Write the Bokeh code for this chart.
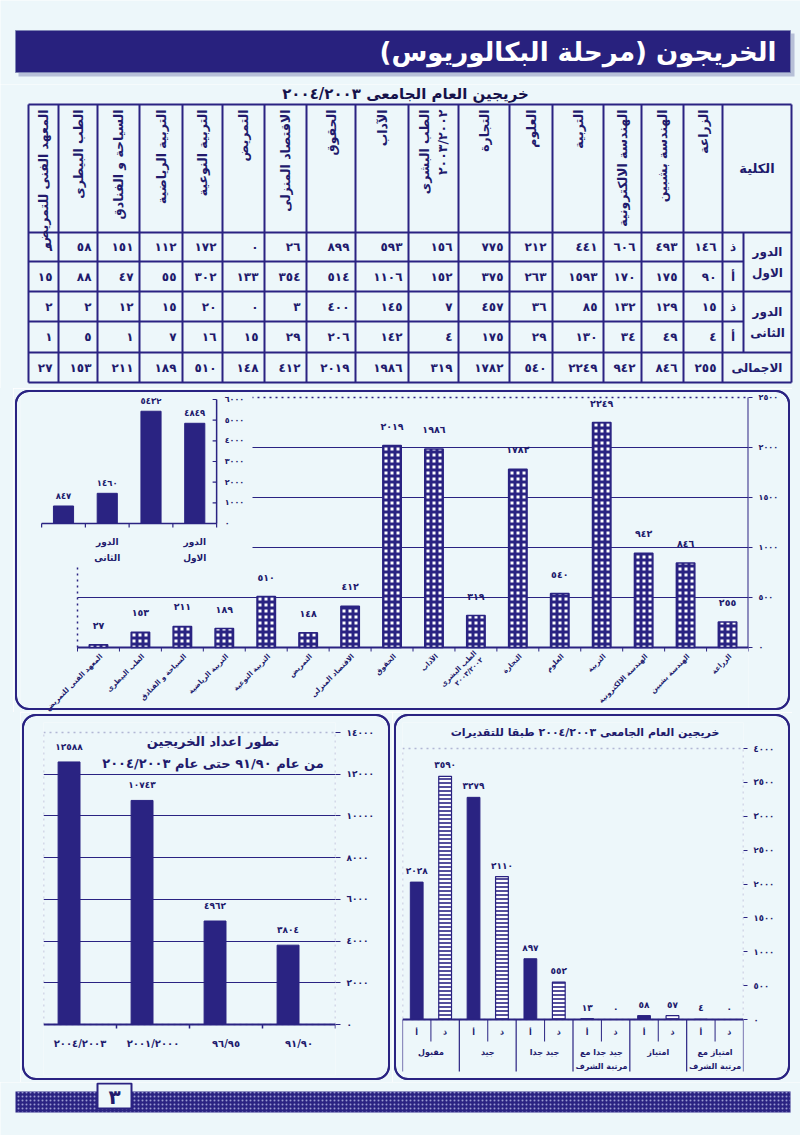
import math
from bokeh.plotting import figure
from bokeh.layouts import column, row
from bokeh.models import (Range1d, FactorRange, FixedTicker, BoxAnnotation, Span, ColumnDataSource,
                          Spacer, InlineStyleSheet)
from bokeh.core.properties import value
from bokeh.transform import dodge
from bokeh.embed import file_html
from bokeh.resources import INLINE

# ---------------- data ----------------
page_title = "الخريجون (مرحلة البكالوريوس)"
table_title = "خريجين العام الجامعى ٢٠٠٤/٢٠٠٣"
faculties = ["المعهد الفنى للتمريض", "الطب البيطرى", "السياحة و الفنادق", "التربية الرياضية",
             "التربية النوعية", "التمريض", "الاقتصاد المنزلى", "الحقوق", "الآداب",
             "الطب البشرى\n٢٠٠٣/٢٠٠٢", "التجارة", "العلوم", "التربية",
             "الهندسة الالكترونية", "الهندسة بشبين", "الزراعة"]
round1_male = [9, 58, 151, 112, 172, 0, 26, 899, 593, 156, 775, 212, 441, 606, 493, 146]
round1_female = [15, 88, 47, 55, 302, 133, 354, 514, 1106, 152, 375, 263, 1593, 170, 175, 90]
round2_male = [2, 2, 12, 15, 20, 0, 3, 400, 145, 7, 457, 36, 85, 132, 129, 15]
round2_female = [1, 5, 1, 7, 16, 15, 29, 206, 142, 4, 175, 29, 130, 34, 49, 4]
faculty_total = [27, 153, 211, 189, 510, 148, 412, 2019, 1986, 319, 1782, 540, 2249, 942, 846, 255]
table_corner = "الكلية"
round_names = ["الدور\nالاول", "الدور\nالثانى"]
gender_names = ["ذ", "أ"]
total_name = "الاجمالى"

inset_round = ["الدور\nالثانى", "الدور\nالثانى", "الدور\nالاول", "الدور\nالاول"]
inset_gender = ["أ", "ذ", "أ", "ذ"]
inset_values = [847, 1460, 5432, 4849]
inset_ticks = [0, 1000, 2000, 3000, 4000, 5000, 6000]
main_ticks = [0, 500, 1000, 1500, 2000, 2500]

trend_title = "تطور اعداد الخريجين\nمن عام ٩١/٩٠ حتى عام ٢٠٠٤/٢٠٠٣"
trend_years = ["٢٠٠٤/٢٠٠٣", "٢٠٠١/٢٠٠٠", "٩٦/٩٥", "٩١/٩٠"]
trend_values = [12588, 10743, 4962, 3804]
trend_ticks = [0, 2000, 4000, 6000, 8000, 10000, 12000, 14000]

grades_title = "خريجين العام الجامعى ٢٠٠٤/٢٠٠٣ طبقا للتقديرات"
grades = ["مقبول", "جيد", "جيد جدا", "جيد جدا مع\nمرتبة الشرف", "امتياز", "امتياز مع\nمرتبة الشرف"]
grade_sub = ["أ", "ذ"]
grades_female = [2028, 3279, 897, 13, 58, 4]
grades_male = [3590, 2110, 552, 0, 57, 0]
grades_ticks = [0, 500, 1000, 1500, 2000, 2500, 3000, 3500, 4000]
page_number = 3

# ---------------- style ----------------
PAGE = "#edf7fa"
NAVY = "#2a2382"
INK = "#211a6c"
FONT = value("DejaVu Sans")
RLM = "\u200f"
DOWN = 1
AR = str.maketrans("0123456789", "٠١٢٣٤٥٦٧٨٩")
BOX_CSS = """
:host { position: relative; }
:host::after, .bk-Canvas::after {
  content: ""; position: absolute; left: 2px; top: 2px; right: 2px; bottom: 2px;
  border: 2.5px solid %s; border-radius: 14px; pointer-events: none; z-index: 100;
  box-sizing: border-box;
}
""" % NAVY


def boxed():
    return [InlineStyleSheet(css=BOX_CSS)]


def spacer(w, h):
    return Spacer(width=w, height=h, styles={"background-color": PAGE})


def ar(n):
    return str(n).translate(AR)


def base_style(p):
    p.background_fill_color = PAGE
    p.border_fill_color = PAGE
    p.outline_line_color = None
    return p


def page_fig(w, h, x0, y0):
    p = figure(width=w, height=h, x_range=Range1d(x0, x0 + w), y_range=Range1d(y0 + h, y0),
               x_axis_location=None, y_axis_location=None, min_border=0,
               toolbar_location=None, output_backend="svg")
    p.grid.visible = False
    return base_style(p)


def txt(p, **kw):
    d = dict(text_font=FONT, text_font_style="bold", text_color=INK,
             text_align="center", text_baseline="middle")
    d.update(kw)
    return p.text(**d)


def style_right_axis(ax, ticks, size):
    ax.ticker = FixedTicker(ticks=ticks)
    ax.major_label_overrides = {t: ar(t) for t in ticks}
    ax.axis_line_color = None
    ax.major_tick_line_color = NAVY
    ax.major_tick_in = 0
    ax.major_tick_out = 4
    ax.minor_tick_line_color = None
    ax.major_label_text_font = "DejaVu Sans"
    ax.major_label_text_font_style = "bold"
    ax.major_label_text_font_size = size
    ax.major_label_text_color = INK
    ax.major_label_standoff = 6


# ---------------- header ----------------
hdr = page_fig(800, 84, 0, 0)
hdr.quad(left=[18], right=[794], top=[33], bottom=[76], fill_color="#b7c0d8", line_color=None)
hdr.quad(left=[15], right=[790], top=[30], bottom=[72], fill_color="#28217e",
         line_color="#7f86b5", line_width=1)
txt(hdr, x=[776], y=[51], text=[RLM + page_title + RLM], text_align="right",
    text_color="white", text_font_size="26px")

# ---------------- table ----------------
tb = page_fig(800, 304, 0, 84)
txt(tb, x=[405], y=[93], text=[table_title], text_font_size="15px", text_color="#16124a")

col_edges = [28, 58, 97, 139, 182, 222, 264, 306, 355, 408, 458, 509, 552, 603, 641, 683, 722]
lab_mid, lab_right = 743, 791
row_edges = [104, 232, 261, 291, 321, 352, 382]

x0s, y0s, x1s, y1s = [], [], [], []
for k, y in enumerate(row_edges):
    right = lab_mid if k in (2, 4) else lab_right
    x0s.append(col_edges[0]); x1s.append(right); y0s.append(y); y1s.append(y)
for x in col_edges + [lab_right]:
    x0s.append(x); x1s.append(x); y0s.append(row_edges[0]); y1s.append(row_edges[-1])
x0s.append(lab_mid); x1s.append(lab_mid); y0s.append(row_edges[1]); y1s.append(row_edges[5])
tb.segment(x0=x0s, y0=y0s, x1=x1s, y1=y1s, line_color=NAVY, line_width=2)

centers = [(col_edges[i] + col_edges[i + 1]) / 2 for i in range(len(faculties))]
txt(tb, x=centers, y=[row_edges[0] + 5] * len(faculties), text=faculties, angle=math.pi / 2,
    text_align="right", text_font_size="12.5px", text_line_height=1.25)

rows = [round1_male, round1_female, round2_male, round2_female, faculty_total]
row_c = [(row_edges[k] + row_edges[k + 1]) / 2 for k in range(1, 6)]
cx, cy, ct = [], [], []
for k, vals in enumerate(rows):
    for i, v in enumerate(vals):
        cx.append(col_edges[i + 1] - 6); cy.append(row_c[k]); ct.append(ar(v))
txt(tb, x=cx, y=cy, text=ct, text_align="right", text_font_size="12px")

txt(tb, x=[(col_edges[-1] + lab_right) / 2], y=[(row_edges[0] + row_edges[1]) / 2],
    text=[table_corner], text_font_size="13px")
txt(tb, x=[(lab_mid + lab_right) / 2] * 2,
    y=[(row_edges[1] + row_edges[3]) / 2, (row_edges[3] + row_edges[5]) / 2],
    text=round_names, text_font_size="12px", text_line_height=1.5)
txt(tb, x=[(col_edges[-1] + lab_mid) / 2] * 4, y=row_c[:4],
    text=[gender_names[k % 2] for k in range(4)], text_font_size="12px")
txt(tb, x=[(col_edges[-1] + lab_right) / 2], y=[row_c[4]], text=[total_name], text_font_size="12px")

# ---------------- main chart ----------------
n = len(faculties)
idx = list(range(n))
EL_L, EL_R, EL_T, EL_B = 13, 792, 388, 712
CAT_L, CAT_R, BASE, TOP, BOT, FL = 77, 748, 647, 393, 711, 20
W = (CAT_R - CAT_L) / n
S = 0.1
mn = figure(width=EL_R - EL_L, height=EL_B - EL_T,
            x_range=Range1d(-0.5 - (CAT_L - FL) / W, n - 0.5),
            y_range=Range1d(-(BOT - BASE) / S, (BASE - TOP) / S),
            x_axis_location=None, y_axis_location="right",
            min_border_left=FL - EL_L, min_border_right=EL_R - CAT_R, min_border_top=TOP - EL_T,
            min_border_bottom=EL_B - BOT, toolbar_location=None, output_backend="svg",
            stylesheets=boxed())
base_style(mn)
mn.grid.visible = False
style_right_axis(mn.yaxis[0], main_ticks, "8px")

I_C0, I_W, I_BASE, I_TOPPX = 63, 43.75, 523, 399
I_S = (I_BASE - I_TOPPX) / inset_ticks[-1]
mn.extra_x_ranges = {"ix": Range1d((FL - I_C0) / I_W, (CAT_R - I_C0) / I_W)}
mn.extra_y_ranges = {"iy": Range1d(-(BOT - I_BASE) / I_S, (I_BASE - TOP) / I_S)}
IR = dict(x_range_name="ix", y_range_name="iy")

g_vals = main_ticks[1:-1]
mn.segment(x0=[-0.5] * len(g_vals), x1=[n - 0.5] * len(g_vals), y0=g_vals, y1=g_vals,
           line_color=NAVY, line_width=1)
mn.segment(x0=[-0.5], x1=[n - 0.5], y0=[main_ticks[-1]], y1=[main_ticks[-1]],
           line_color=NAVY, line_width=1.5, line_dash="dotted")
mn.segment(x0=[-0.5], x1=[-0.5], y0=[0], y1=[main_ticks[-1]], line_color=NAVY,
           line_width=1.5, line_dash="dotted")
mn.quad(left=[(FL - I_C0) / I_W], right=[(252 - I_C0) / I_W], bottom=[-(565 - I_BASE) / I_S],
        top=[(I_BASE - TOP + 5) / I_S], fill_color=PAGE, line_color=None, **IR)
mn.segment(x0=[n - 0.5], x1=[n - 0.5], y0=[0], y1=[main_ticks[-1]], line_color=NAVY, line_width=2)
mn.segment(x0=[-0.5], x1=[n - 0.5], y0=[0], y1=[0], line_color=NAVY, line_width=2)
bt = [i - 0.5 for i in range(n + 1)]
mn.segment(x0=bt, x1=bt, y0=[0] * len(bt), y1=[-4 / S] * len(bt), line_color=NAVY, line_width=1)

mn.vbar(x=idx, top=faculty_total, width=0.44, fill_color="white", line_color=NAVY, line_width=1.5,
        hatch_pattern="+", hatch_color=NAVY, hatch_scale=6, hatch_weight=3)
txt(mn, x=idx, y=faculty_total, text=[ar(v) for v in faculty_total], y_offset=-14 * DOWN,
    text_baseline="bottom", text_font_size="9.5px")
txt(mn, x=idx, y=[0] * n, text=faculties, angle=math.pi / 4, text_align="right",
    x_offset=3, y_offset=8 * DOWN, text_font_size="7px", text_line_height=1.15)

ni = len(inset_values)
iidx = list(range(ni))
mn.vbar(x=iidx, top=inset_values, width=0.46, fill_color=NAVY, line_color=NAVY, **IR)
txt(mn, x=iidx, y=inset_values, text=[ar(v) for v in inset_values], y_offset=-5 * DOWN,
    text_baseline="bottom", text_font_size="8.5px", **IR)
ax_x = ni - 0.5
mn.segment(x0=[ax_x], x1=[ax_x], y0=[0], y1=[inset_ticks[-1]], line_color=NAVY, line_width=1.5, **IR)
mn.segment(x0=[ax_x - 4 / I_W] * len(inset_ticks), x1=[ax_x] * len(inset_ticks), y0=inset_ticks,
           y1=inset_ticks, line_color=NAVY, line_width=1.2, **IR)
txt(mn, x=[ax_x] * len(inset_ticks), y=inset_ticks, text=[ar(t) for t in inset_ticks], x_offset=8,
    text_align="left", text_font_size="8px", **IR)
mn.segment(x0=[-0.5], x1=[ax_x], y0=[0], y1=[0], line_color=NAVY, line_width=1.5, **IR)
ibt = [i - 0.5 for i in range(ni + 1)]
mn.segment(x0=ibt, x1=ibt, y0=[0] * len(ibt), y1=[-4 / I_S] * len(ibt), line_color=NAVY,
           line_width=1.2, **IR)
lab_i = [i for i in iidx if inset_gender[i] == "ذ"]
txt(mn, x=lab_i, y=[0] * len(lab_i), text=[inset_round[i] for i in lab_i], y_offset=13 * DOWN,
    text_baseline="top", text_font_size="9px", text_line_height=1.6, **IR)

main_row = row(spacer(EL_L, EL_B - EL_T), mn, spacer(800 - EL_R, EL_B - EL_T))

# ---------------- lower charts (shared frame top/bottom) ----------------
LO_T, LO_B = 712, 1082
F_T, F_B = 722, 1075

LL_L, LL_R, LL_FL, LL_FR, LL_BASE, LL_TOP = 20, 392, 43, 335, 1024, 732
LL_S = (LL_BASE - LL_TOP) / trend_ticks[-1]
ll = figure(width=LL_R - LL_L, height=LO_B - LO_T, x_range=FactorRange(factors=trend_years),
            y_range=Range1d(-(F_B - LL_BASE) / LL_S, (LL_BASE - F_T) / LL_S),
            x_axis_location=None, y_axis_location="right",
            min_border_left=LL_FL - LL_L, min_border_right=LL_R - LL_FR,
            min_border_top=F_T - LO_T, min_border_bottom=LO_B - F_B,
            toolbar_location=None, output_backend="svg", stylesheets=boxed())
base_style(ll)
ll.xgrid.grid_line_color = None
ll.ygrid.ticker = FixedTicker(ticks=trend_ticks[1:-1])
ll.ygrid.grid_line_color = NAVY
ll.ygrid.grid_line_width = 1
style_right_axis(ll.yaxis[0], trend_ticks, "9px")
ll.yaxis[0].major_tick_out = 5
ll.add_layout(BoxAnnotation(bottom=0, top=trend_ticks[-1], fill_alpha=0, line_color=NAVY,
                            line_dash="dotted", line_width=1.5))
ll.add_layout(Span(location=0, dimension="width", line_color=NAVY, line_width=2))
src = ColumnDataSource(dict(year=trend_years, v=trend_values, lab=[ar(v) for v in trend_values]))
bx = dodge("year", -0.15, range=ll.x_range)
ll.vbar(x=bx, top="v", width=0.3, source=src, fill_color=NAVY, line_color=NAVY)
txt(ll, x=bx, y="v", text="lab", source=src, y_offset=-10 * DOWN, text_baseline="bottom",
    text_font_size="9px")
tk = [(y, -0.5) for y in trend_years[1:]] + [(trend_years[-1], 0.5)]
ll.segment(x0=tk, x1=tk, y0=[0] * len(tk), y1=[-4 / LL_S] * len(tk), line_color=NAVY, line_width=1.5)
txt(ll, x=trend_years, y=[0] * len(trend_years), text=trend_years, y_offset=19 * DOWN,
    text_font_size="10px")
txt(ll, x=[trend_years[1]], y=[trend_ticks[-1]], text=[trend_title], x_offset=60, y_offset=1 * DOWN,
    text_baseline="top", text_font_size="13px", text_line_height=1.5)

lr_factors = [(g, s) for g in grades for s in grade_sub]
LR_L, LR_R, LR_FL, LR_FR, LR_BASE, LR_TOP = 392, 792, 402, 743, 1019, 748
LR_S = (LR_BASE - LR_TOP) / grades_ticks[-1]
lr = figure(width=LR_R - LR_L, height=LO_B - LO_T,
            x_range=FactorRange(factors=lr_factors, factor_padding=0, subgroup_padding=0,
                                group_padding=0, range_padding=0),
            y_range=Range1d(-(F_B - LR_BASE) / LR_S, (LR_BASE - F_T) / LR_S),
            x_axis_location=None, y_axis_location="right",
            min_border_left=LR_FL - LR_L, min_border_right=LR_R - LR_FR,
            min_border_top=F_T - LO_T, min_border_bottom=LO_B - F_B,
            toolbar_location=None, output_backend="svg", stylesheets=boxed())
base_style(lr)
lr.grid.visible = False
style_right_axis(lr.yaxis[0], grades_ticks, "8.5px")
lr.add_layout(BoxAnnotation(bottom=0, top=grades_ticks[-1], fill_alpha=0, line_color=NAVY,
                            line_dash="dotted", line_width=1.5))
lr.add_layout(Span(location=0, dimension="width", line_color=NAVY, line_width=2))
f_fac = [(g, "أ") for g in grades]
m_fac = [(g, "ذ") for g in grades]
lr.vbar(x=f_fac, top=grades_female, width=0.45, fill_color=NAVY, line_color=NAVY)
lr.vbar(x=m_fac, top=grades_male, width=0.45, fill_color="white", line_color=NAVY, line_width=1.2,
        hatch_pattern="-", hatch_color=NAVY, hatch_scale=4, hatch_weight=1.6)
txt(lr, x=f_fac + m_fac, y=grades_female + grades_male,
    text=[ar(v) for v in grades_female + grades_male], y_offset=-6 * DOWN,
    text_baseline="bottom", text_font_size="9px")
sub_x = [(g, "ذ", -0.5) for g in grades]
grp_x = [(g, "أ", -0.5) for g in grades] + [(grades[-1], "ذ", 0.5)]
lr.segment(x0=sub_x, x1=sub_x, y0=[0] * len(sub_x), y1=[-22 / LR_S] * len(sub_x),
           line_color=NAVY, line_width=1)
lr.segment(x0=grp_x, x1=grp_x, y0=[0] * len(grp_x), y1=[-52 / LR_S] * len(grp_x),
           line_color=NAVY, line_width=1.2)
txt(lr, x=lr_factors, y=[-13 / LR_S] * len(lr_factors), text=[s for g, s in lr_factors],
    text_font_size="8px")
txt(lr, x=grades, y=[-28 / LR_S] * len(grades), text=grades, text_baseline="top",
    text_font_size="8px", text_line_height=1.6)
txt(lr, x=[(grades[2], "ذ", 0.5)], y=[grades_ticks[-1]], text=[grades_title], x_offset=12,
    y_offset=-16 * DOWN, text_font_size="11px")

low_row = row(spacer(LL_L, LO_B - LO_T), ll, lr, spacer(800 - LR_R, LO_B - LO_T))

# ---------------- footer ----------------
ft = page_fig(800, 53, 0, 1082)
ft.quad(left=[15], right=[790], top=[1091], bottom=[1112], fill_color=NAVY, line_color=None,
        hatch_pattern=".", hatch_color="#9a9ad0", hatch_scale=4, hatch_weight=1.2)
ft.quad(left=[97], right=[131], top=[1083], bottom=[1108], fill_color=PAGE, line_color=NAVY,
        line_width=2)
txt(ft, x=[114], y=[1096], text=[ar(page_number)], text_font_size="20px")

layout = column(hdr, tb, main_row, low_row, ft)
open("out.html", "w").write(file_html(layout, INLINE, title="plot"))
